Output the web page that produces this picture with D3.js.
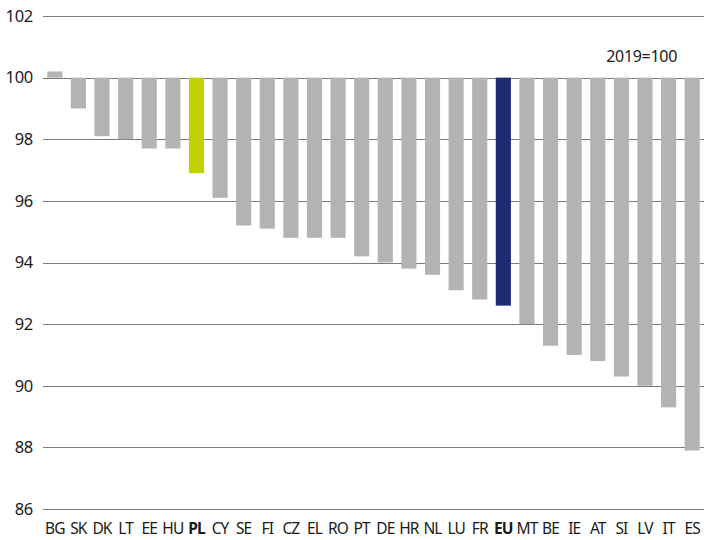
<!DOCTYPE html>
<html><head><meta charset="utf-8">
<script src="https://cdn.jsdelivr.net/npm/d3@7"></script>
<style>
html,body{margin:0;padding:0;background:#fff;}
text{font-family:"Noto Sans","Open Sans",sans-serif;fill:#1a1a1a;}
</style></head>
<body><svg id="c" width="704" height="540"></svg>
<script>
const categories = ["BG","SK","DK","LT","EE","HU","PL","CY","SE","FI","CZ","EL","RO","PT","DE","HR","NL","LU","FR","EU","MT","BE","IE","AT","SI","LV","IT","ES"];
const values = [100.2,99.0,98.1,98.0,97.7,97.7,96.9,96.1,95.2,95.1,94.8,94.8,94.8,94.2,94.0,93.8,93.6,93.1,92.8,92.6,92.0,91.3,91.0,90.8,90.3,90.0,89.3,87.9];
const yTicks = [86,88,90,92,94,96,98,100,102];
const highlight = {PL:"#c0d000", EU:"#1f2b72"};
const baseColor = "#b3b3b3";
const note = "2019=100";

(function(){
const svg = d3.select("#c");
const mL = 43, mR = 704, mT = 16, mB = 509;
const x = d3.scaleBand().domain(categories).range([mL, mR]).paddingInner(0.36).paddingOuter(0.18);
const y = d3.scaleLinear().domain([86,102]).range([mB, mT]);

// gridlines
svg.append("g").selectAll("line").data(yTicks).join("line")
  .attr("x1", mL).attr("x2", mR)
  .attr("y1", d => Math.round(y(d)) + 0.5).attr("y2", d => Math.round(y(d)) + 0.5)
  .attr("stroke", "#7a7a7a").attr("stroke-width", 1);

// y tick labels
const yAxis = svg.append("g").attr("transform", `translate(${mL},0)`)
  .call(d3.axisLeft(y).tickValues(yTicks).tickSize(0).tickPadding(10));
yAxis.select(".domain").remove();
yAxis.selectAll("text").attr("font-size", 16.5).attr("letter-spacing", "-0.3px")
  .attr("font-family", '"Noto Sans","Open Sans",sans-serif').attr("fill", "#1a1a1a");

// bars
const data = categories.map((c, i) => ({c, v: values[i]}));
svg.append("g").selectAll("rect").data(data).join("rect")
  .attr("x", d => x(d.c))
  .attr("width", x.bandwidth())
  .attr("y", d => Math.min(y(d.v), y(100)))
  .attr("height", d => Math.abs(y(d.v) - y(100)))
  .attr("fill", d => highlight[d.c] || baseColor);

// x labels
const xAxis = svg.append("g").attr("transform", `translate(0,${mB})`)
  .call(d3.axisBottom(x).tickSize(0).tickPadding(14));
xAxis.select(".domain").remove();
xAxis.selectAll("text")
  .attr("font-size", 15.5)
  .attr("letter-spacing", "-0.9px")
  .attr("font-family", '"Noto Sans","Open Sans",sans-serif')
  .attr("fill", "#1a1a1a")
  .attr("font-weight", d => highlight[d] ? "bold" : "normal");

svg.append("text").attr("x", 677).attr("y", 62).attr("text-anchor", "end")
  .attr("font-size", 16).attr("letter-spacing", "-0.3px").text(note);
})();
</script></body></html>
